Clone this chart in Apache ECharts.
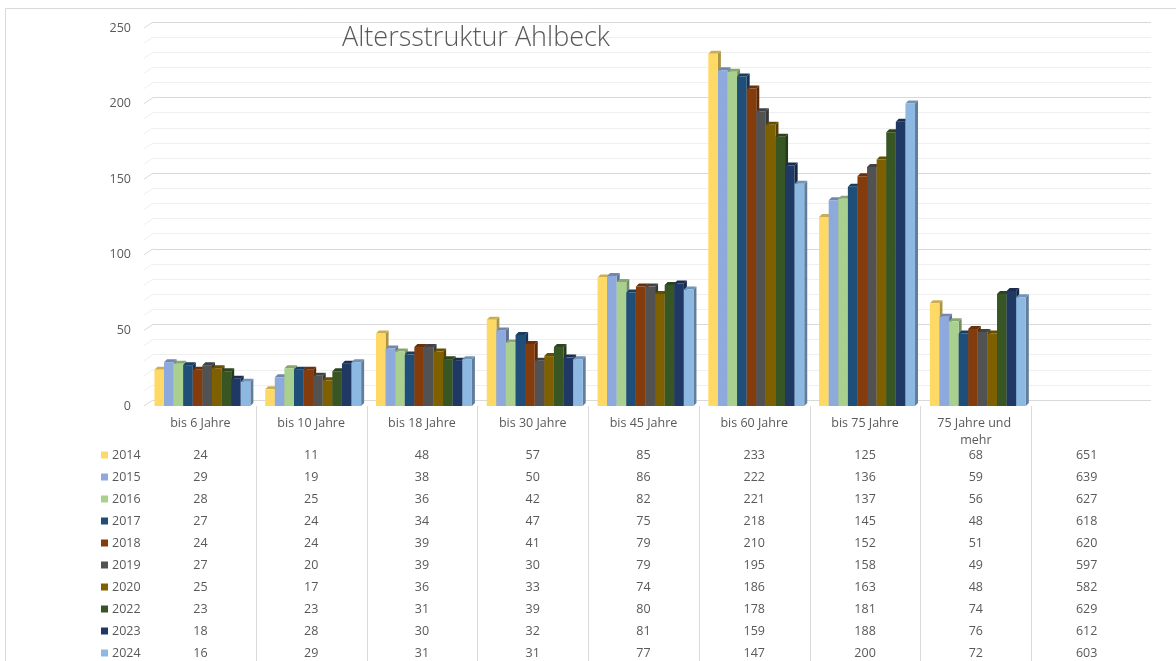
<!DOCTYPE html>
<html>
<head>
<meta charset="utf-8">
<title>Altersstruktur Ahlbeck</title>
<script src="https://cdn.jsdelivr.net/npm/echarts@6/dist/echarts.min.js"></script>
<style>
  html, body { margin: 0; padding: 0; background: #fff; }
  #main { width: 1176px; height: 661px; }
</style>
</head>
<body>
<div id="main"></div>
<script>
// Daten
var categories = ['bis 6 Jahre', 'bis 10 Jahre', 'bis 18 Jahre', 'bis 30 Jahre', 'bis 45 Jahre',
  'bis 60 Jahre', 'bis 75 Jahre', '75 Jahre und mehr', ''];
var years = ['2014', '2015', '2016', '2017', '2018', '2019', '2020', '2022', '2023', '2024'];
var v2014 = [24, 11, 48, 57, 85, 233, 125, 68];
var v2015 = [29, 19, 38, 50, 86, 222, 136, 59];
var v2016 = [28, 25, 36, 42, 82, 221, 137, 56];
var v2017 = [27, 24, 34, 47, 75, 218, 145, 48];
var v2018 = [24, 24, 39, 41, 79, 210, 152, 51];
var v2019 = [27, 20, 39, 30, 79, 195, 158, 49];
var v2020 = [25, 17, 36, 33, 74, 186, 163, 48];
var v2022 = [23, 23, 31, 39, 80, 178, 181, 74];
var v2023 = [18, 28, 30, 32, 81, 159, 188, 76];
var v2024 = [16, 29, 31, 31, 77, 147, 200, 72];
var totals = [651, 639, 627, 618, 620, 597, 582, 629, 612, 603];
var yTicks = [0, 10, 20, 30, 40, 50, 60, 70, 80, 90, 100, 110, 120, 130, 140, 150,
  160, 170, 180, 190, 200, 210, 220, 230, 240, 250];

var values = [v2014, v2015, v2016, v2017, v2018, v2019, v2020, v2022, v2023, v2024];
var colors = ['#FFD966', '#8EA9DB', '#A9D08E', '#1F4E79', '#843C0C',
  '#525252', '#7F6000', '#375623', '#203864', '#8DB8E2'];

var txt = '#595959';
var font = 'Open Sans';
var D = 3;       // Tiefe der Säulen
var BX = 8;      // Versatz Rückwand
var BY = 6;

// Farbe abdunkeln
function shade(hex, f) {
  var n = parseInt(hex.slice(1), 16);
  var r = Math.round(((n >> 16) & 255) * f);
  var g = Math.round(((n >> 8) & 255) * f);
  var b = Math.round((n & 255) * f);
  return 'rgb(' + r + ',' + g + ',' + b + ')';
}

var chart = echarts.init(document.getElementById('main'));

// Säulen mit kleinem 3D-Effekt
function barSeries(s) {
  var col = colors[s];
  var side = shade(col, 0.68);
  var top = shade(col, 0.8);
  return {
    name: years[s],
    type: 'custom',
    xAxisIndex: 0, yAxisIndex: 0,
    itemStyle: { color: col },
    data: values[s].map(function (v, i) { return [i, v]; }),
    renderItem: function (params, api) {
      var c = api.value(0), v = api.value(1);
      var base = api.coord([c, 0]);
      var band = api.size([1, 0])[0];
      var bw = band * 0.0866;
      var x = base[0] - 5 * bw + 2 + s * bw;
      var yT = api.coord([c, v])[1];
      var y0 = base[1];
      return {
        type: 'group',
        children: [
          { type: 'polygon', shape: { points: [[x + bw, yT], [x + bw + D, yT - D], [x + bw + D, y0 - D], [x + bw, y0]] },
            style: { fill: side } },
          { type: 'polygon', shape: { points: [[x, yT], [x + D, yT - D], [x + bw + D, yT - D], [x + bw, yT]] },
            style: { fill: top } },
          { type: 'rect', shape: { x: x, y: yT, width: bw, height: y0 - yT }, style: { fill: col } }
        ]
      };
    }
  };
}

// Datentabelle unter dem Diagramm
var tableData = [];
values.forEach(function (arr, s) {
  arr.forEach(function (v, c) { tableData.push([c, s, v]); });
  tableData.push([8, s, totals[s]]);
});

var series = [];
for (var s = 0; s < years.length; s++) series.push(barSeries(s));

series.push({
  type: 'custom',
  silent: true,
  xAxisIndex: 0, yAxisIndex: 0,
  data: tableData,
  renderItem: function (params, api) {
    var c = api.value(0), r = api.value(1);
    var p = api.coord([c, 0]);
    return {
      type: 'text',
      style: {
        text: String(api.value(2)), x: p[0], y: 455 + r * 22,
        align: 'center', verticalAlign: 'middle',
        fill: txt, font: '12.5px "' + font + '"'
      }
    };
  }
});

// Trennlinien der Tabelle
series.push({
  type: 'custom',
  silent: true,
  xAxisIndex: 0, yAxisIndex: 0,
  data: [[1, 0], [2, 0], [3, 0], [4, 0], [5, 0], [6, 0], [7, 0], [8, 0]],
  renderItem: function (params, api) {
    var c = api.value(0);
    var p = api.coord([c, 0]);
    var band = api.size([1, 0])[0];
    var x = Math.round(p[0] - band / 2) + 0.5;
    return {
      type: 'line',
      shape: { x1: x, y1: p[1], x2: x, y2: 700 },
      style: { stroke: '#d9d9d9', lineWidth: 1 }
    };
  }
});

// schräge Ansätze der Gitterlinien links
series.push({
  type: 'custom',
  silent: true,
  xAxisIndex: 0, yAxisIndex: 0,
  data: yTicks.map(function (t) { return [0, t]; }),
  renderItem: function (params, api) {
    var t = api.value(1);
    var y = api.coord([0, t])[1];
    var x = params.coordSys.x;
    return {
      type: 'line',
      shape: { x1: x - 1, y1: y, x2: x + BX, y2: y - BY },
      style: { stroke: t % 50 === 0 ? '#d9d9d9' : '#efefef', lineWidth: 1 }
    };
  }
});

var option = {
  backgroundColor: '#fff',
  animation: false,
  title: {
    text: 'Altersstruktur Ahlbeck',
    left: 337, top: 20,
    textStyle: { color: txt, fontSize: 27, fontWeight: 300, fontFamily: font }
  },
  legend: {
    data: years,
    orient: 'vertical',
    left: 101, top: 444,
    height: 260,
    padding: 0,
    icon: 'rect',
    itemWidth: 7, itemHeight: 7,
    itemGap: 0,
    selectedMode: false,
    textStyle: { color: txt, fontSize: 12.5, fontFamily: font, lineHeight: 22, padding: [0, 0, 0, -1] }
  },
  graphic: [{
    type: 'rect',
    shape: { x: 5.5, y: 8.5, width: 1300, height: 800 },
    style: { fill: null, stroke: '#d9d9d9', lineWidth: 1 },
    silent: true, z: -10
  }],
  grid: [
    { left: 145, right: 34, top: 28, bottom: 255 },
    { left: 153, right: 25, top: 22, bottom: 261 }
  ],
  xAxis: [{
    type: 'category',
    gridIndex: 0,
    data: categories,
    axisLine: { show: false },
    axisTick: { show: false },
    axisLabel: {
      color: txt, fontSize: 12.5, fontFamily: font, margin: 9, interval: 0,
      width: 96, overflow: 'break', lineHeight: 17
    }
  }, {
    type: 'value', gridIndex: 1, show: false, min: 0, max: 1
  }],
  yAxis: [{
    type: 'value',
    gridIndex: 0,
    min: 0, max: 250, interval: 50,
    axisLine: { show: false },
    axisTick: { show: false },
    splitLine: { show: false },
    axisLabel: { color: txt, fontSize: 12.5, fontFamily: font, margin: 14 }
  }, {
    type: 'value',
    gridIndex: 1,
    min: 0, max: 250, interval: 50,
    axisLine: { show: false },
    axisTick: { show: false },
    axisLabel: { show: false },
    minorTick: { show: false, splitNumber: 5 },
    splitLine: { show: true, lineStyle: { color: '#d9d9d9', width: 1 } },
    minorSplitLine: { show: true, lineStyle: { color: '#efefef', width: 1 } }
  }],
  series: series
};

chart.setOption(option);
</script>
</body>
</html>
